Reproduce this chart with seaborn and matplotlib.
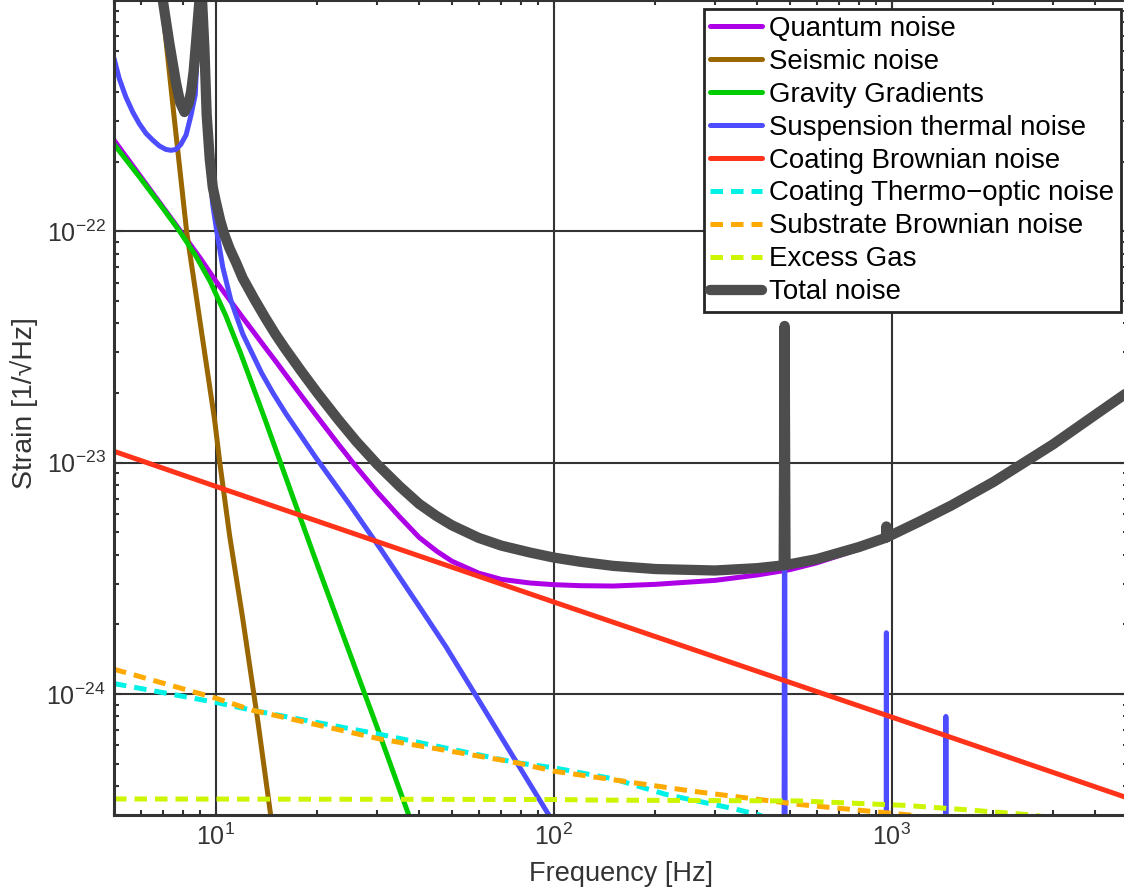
import matplotlib
matplotlib.use("Agg")
import matplotlib.pyplot as plt
import seaborn as sns
import numpy as np
from matplotlib.ticker import LogLocator, NullFormatter

# ---------------- data ----------------
quantum_f = [5, 6, 7, 8, 9, 10, 11, 12, 13, 14, 15, 16, 18, 20, 23, 26, 30, 35, 40,
             45, 50, 60, 70, 85, 100, 120, 150, 200, 300, 400, 500, 600, 800, 1000,
             1200, 1500, 2000, 3000, 4000, 5000]
quantum_h = [2.48e-22, 1.722e-22, 1.265e-22, 9.69e-23, 7.65e-23, 6.1e-23, 5.05e-23,
             4.25e-23, 3.64e-23, 3.15e-23, 2.76e-23, 2.43e-23, 1.93e-23, 1.576e-23,
             1.207e-23, 9.62e-24, 7.48e-24, 5.83e-24, 4.75e-24, 4.15e-24, 3.75e-24,
             3.33e-24, 3.13e-24, 3.02e-24, 2.97e-24, 2.94e-24, 2.93e-24, 2.98e-24,
             3.1e-24, 3.27e-24, 3.45e-24, 3.69e-24, 4.23e-24, 4.77e-24, 5.49e-24,
             6.5e-24, 8.24e-24, 1.2e-23, 1.61e-23, 2.02e-23]

seismic_f = [5, 6, 6.5, 6.92, 7.5, 8.2, 9, 9.93, 10.28, 11, 12, 13.32, 14.55, 15.5]
seismic_h = [9e-20, 6.9e-21, 2.3e-21, 1.0e-21, 3.3e-22, 1.0e-22, 4.0e-23, 1.52e-23,
             1.0e-23, 4.8e-24, 2.15e-24, 7.64e-25, 2.97e-25, 1.6e-25]

gravity_f = [5, 6, 7, 7.82, 8.7, 9.63, 10.7, 11.86, 13.94, 17, 20, 25, 30, 35, 40]
gravity_h = [2.38e-22, 1.69e-22, 1.25e-22, 1.0e-22, 7.9e-23, 6.07e-23, 4.33e-23,
             2.96e-23, 1.56e-23, 6.95e-24, 3.6e-24, 1.48e-24, 7.2e-25, 3.85e-25,
             2.25e-25]

susp_f = [5, 5.18, 5.42, 5.68, 5.94, 6.22, 6.51, 6.81, 7.12, 7.37, 7.63, 7.89, 8.17,
          8.45, 8.7, 8.9, 9.03, 9.2, 9.4, 9.6, 9.8, 10.07, 10.49, 11.1, 12.02, 13.69,
          14.8, 16.12, 19.79, 24.8, 31, 40, 48, 60, 77, 96.3, 110, 200, 479, 482, 485,
          961, 964, 967, 1443, 1446, 1449, 5000]
susp_h = [5.6e-22, 4.58e-22, 3.81e-22, 3.28e-22, 2.92e-22, 2.65e-22, 2.48e-22,
          2.34e-22, 2.26e-22, 2.24e-22, 2.26e-22, 2.38e-22, 2.61e-22, 3.18e-22,
          3.9e-22, 8.5e-22, 3e-21, 6.4e-22, 2.9e-22, 1.75e-22, 1.3e-22, 1.0e-22,
          7.0e-23, 5.0e-23, 3.6e-23, 2.43e-23, 1.99e-23, 1.63e-23, 1.05e-23, 6.65e-24,
          4.16e-24, 2.39e-24, 1.6e-24, 9.4e-25, 5.17e-25, 3.03e-25, 2.2e-25, 4e-26,
          5e-27, 3.9e-23, 5e-27, 1e-27, 1.84e-24, 1e-27, 5e-28, 8.0e-25, 5e-28, 1e-28]

coat_brown_f = [5, 10, 100, 1000, 5000]
coat_brown_h = [1.12e-23, 7.9e-24, 2.5e-24, 7.95e-25, 3.55e-25]

coat_to_f = [5, 10, 12.87, 30.5, 77.6, 100, 150, 215, 339, 406, 500]
coat_to_h = [1.11e-24, 9.2e-25, 8.5e-25, 6.7e-25, 5.05e-25, 4.8e-25, 4.3e-25,
             3.68e-25, 3.2e-25, 3.0e-25, 2.6e-25]

subst_f = [5, 10, 12.87, 30.5, 77.6, 100, 136, 258, 533, 1130, 1500]
subst_h = [1.28e-24, 9.6e-25, 8.5e-25, 6.4e-25, 5.05e-25, 4.64e-25, 4.35e-25,
           3.8e-25, 3.33e-25, 3.0e-25, 2.8e-25]

gas_f = [5, 100, 136, 533, 1100, 1663, 2618, 3000, 5000]
gas_h = [3.52e-25, 3.5e-25, 3.48e-25, 3.45e-25, 3.3e-25, 3.16e-25, 3.0e-25,
         2.9e-25, 2.5e-25]

total_f = [5, 6, 6.5, 6.97, 7.29, 7.63, 7.85, 8.08, 8.3, 8.45, 8.6, 8.74, 8.95, 9.03,
           9.11, 9.26, 9.4, 9.6, 9.8, 10.0, 10.3, 10.6, 11, 11.5, 12, 13, 14, 15, 16,
           18, 20, 23, 26, 30, 35, 40, 45, 50, 60, 70, 85, 100, 120, 150, 200, 300,
           400, 479, 482, 485, 600, 800, 961, 964, 967, 1200, 1500, 2000, 3000, 4000,
           5000]
total_h = [9e-20, 6.9e-21, 2.3e-21, 1.0e-21, 6.5e-22, 4.38e-22, 3.6e-22, 3.28e-22,
           3.55e-22, 4.0e-22, 4.9e-22, 6.5e-22, 1.0e-21, 3e-21, 1.0e-21, 6.1e-22,
           3.2e-22, 2.05e-22, 1.55e-22, 1.35e-22, 1.12e-22, 9.7e-23, 8.4e-23, 7.3e-23,
           6.3e-23, 5.1e-23, 4.24e-23, 3.6e-23, 3.13e-23, 2.46e-23, 2.0e-23, 1.54e-23,
           1.24e-23, 9.86e-24, 7.9e-24, 6.63e-24, 5.88e-24, 5.36e-24, 4.73e-24,
           4.38e-24, 4.09e-24, 3.89e-24, 3.73e-24, 3.58e-24, 3.47e-24, 3.42e-24,
           3.5e-24, 3.6e-24, 3.9e-23, 3.61e-24, 3.83e-24, 4.32e-24, 4.74e-24, 5.3e-24,
           4.76e-24, 5.54e-24, 6.53e-24, 8.26e-24, 1.2e-23, 1.61e-23, 2.02e-23]

labels = ["Quantum noise", "Seismic noise", "Gravity Gradients",
          "Suspension thermal noise", "Coating Brownian noise",
          "Coating Thermo\u2212optic noise", "Substrate Brownian noise",
          "Excess Gas", "Total noise"]
x_ticks = [10, 100, 1000]
y_ticks = [1e-24, 1e-23, 1e-22]

# ---------------- styling ----------------
sns.set_style("ticks")
plt.rcParams["font.family"] = ["Liberation Sans", "DejaVu Sans"]
plt.rcParams["mathtext.fontset"] = "custom"
plt.rcParams["mathtext.rm"] = "Liberation Sans"
plt.rcParams["mathtext.it"] = "Liberation Sans:italic"
plt.rcParams["mathtext.bf"] = "Liberation Sans:bold"

fig = plt.figure(figsize=(11.24, 8.93), dpi=100)
ax = fig.add_axes([114 / 1124, 78 / 893, 1014 / 1124, 815 / 893])

dash = (0, (2.5, 1.6))
series = [
    (quantum_f, quantum_h, "#AD00E6", 3.6, "-"),
    (seismic_f, seismic_h, "#996600", 3.6, "-"),
    (gravity_f, gravity_h, "#00CC00", 3.6, "-"),
    (susp_f, susp_h, "#4D4DFF", 3.6, "-"),
    (coat_brown_f, coat_brown_h, "#FF3319", 3.6, "-"),
    (coat_to_f, coat_to_h, "#00F2E6", 3.6, dash),
    (subst_f, subst_h, "#FFAA00", 3.6, dash),
    (gas_f, gas_h, "#CCF500", 3.6, dash),
    (total_f, total_h, "#4D4D4D", 7.4, "-"),
]

for (f, h, col, lw, ls), lab in zip(series, labels):
    sns.lineplot(x=f, y=h, ax=ax, color=col, linewidth=lw, linestyle=ls,
                 label=lab, estimator=None, sort=False, errorbar=None,
                 solid_capstyle="round", solid_joinstyle="round")

ax.set_xscale("log")
ax.set_yscale("log")
ax.set_xlim(5, 5000)
ax.set_ylim(3e-25, 1e-21)
ax.set_xticks(x_ticks)
ax.set_yticks(y_ticks)
ax.xaxis.set_minor_locator(LogLocator(base=10, subs=np.arange(2, 10), numticks=50))
ax.yaxis.set_minor_locator(LogLocator(base=10, subs=np.arange(2, 10), numticks=50))
ax.xaxis.set_minor_formatter(NullFormatter())
ax.yaxis.set_minor_formatter(NullFormatter())

ax.grid(True, which="major", color="#333333", linewidth=1.5)
ax.set_axisbelow(True)
for s in ax.spines.values():
    s.set_color("#333333")
    s.set_linewidth(2.2)
ax.tick_params(which="both", direction="in", top=True, right=True,
               color="#333333", width=1.5, labelcolor="#333333", labelsize=18)
ax.tick_params(which="major", length=6, pad=6)
ax.tick_params(which="minor", length=3.6)

ax.set_xlabel("Frequency [Hz]", fontsize=19.5, color="#333333")
ax.set_ylabel("Strain [1/\u221aHz]", fontsize=20.5, color="#333333")
ax.xaxis.set_label_coords(0.5, -0.057)
ax.yaxis.set_label_coords(-0.075, 0.505)

leg = ax.legend(loc="upper right", bbox_to_anchor=(1121 / 1124, 1 - 9 / 893),
                bbox_transform=fig.transFigure, borderaxespad=0,
                fontsize=19.9, frameon=True, fancybox=False, framealpha=1,
                edgecolor="#262626", handlelength=1.88, handletextpad=0.24,
                labelspacing=0.25, borderpad=0.25)
leg.get_frame().set_linewidth(2.0)
for t in leg.get_texts():
    t.set_color("black")

fig.savefig("out.png", dpi=100)
